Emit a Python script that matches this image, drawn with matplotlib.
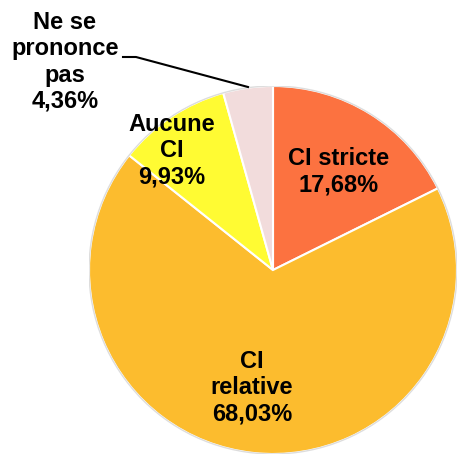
import matplotlib.pyplot as plt

# Data
categories = ['CI stricte', 'CI\nrelative', 'Aucune\nCI', 'Ne se\nprononce\npas']
values = [17.68, 68.03, 9.93, 4.36]
colors = ['#FC7240', '#FCBC2E', '#FFFB33', '#F2DCDC']

plt.rcParams['font.family'] = ['Liberation Sans', 'DejaVu Sans']

W, H = 460, 455
fig = plt.figure(figsize=(W / 100, H / 100), dpi=100)

# pie centre and radius in pixels
cx, cy, r = 273, 270, 184
ax = fig.add_axes([(cx - r) / W, (H - cy - r) / H, 2 * r / W, 2 * r / H])

ax.pie(values, colors=colors, startangle=90, counterclock=False,
       radius=1, wedgeprops=dict(edgecolor='white', linewidth=1.5))
ax.add_patch(plt.Circle((0, 0), 1, fill=False, edgecolor='#dddddd', linewidth=1))
ax.set_xlim(-1, 1)
ax.set_ylim(-1, 1)
ax.set_aspect('equal')
ax.axis('off')

def fmt(v):
    return f'{v:.2f}%'.replace('.', ',')

# label positions (pixel centres)
label_pos = [(339, 172), (252, 388), (172, 151), (65, 62)]
for cat, v, (px, py) in zip(categories, values, label_pos):
    fig.text(px / W, 1 - py / H, f'{cat}\n{fmt(v)}', ha='center', va='center',
             fontsize=17, fontweight='bold', linespacing=1.17)

# leader line for the small slice
fig.add_artist(plt.Line2D([123 / W, 136 / W, 248 / W],
                          [1 - 57 / H, 1 - 57 / H, 1 - 87 / H],
                          color='black', linewidth=1.5))

fig.savefig('out.png', dpi=100)
